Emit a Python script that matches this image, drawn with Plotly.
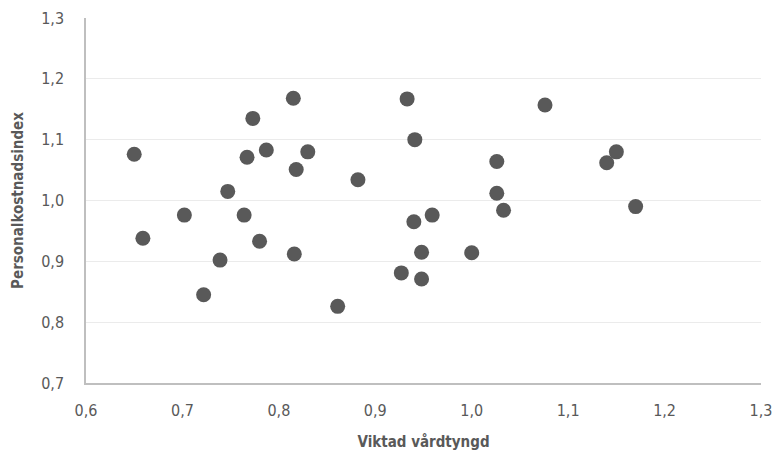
import plotly.graph_objects as go

viktad_vardtyngd = [0.650, 0.659, 0.702, 0.722, 0.739, 0.747, 0.764, 0.767, 0.773, 0.780,
                    0.787, 0.815, 0.816, 0.818, 0.830, 0.861, 0.882, 0.927, 0.933, 0.941,
                    0.940, 0.948, 0.948, 0.959, 1.000, 1.026, 1.026, 1.033, 1.076, 1.140,
                    1.150, 1.170]
personalkostnadsindex = [1.076, 0.938, 0.976, 0.845, 0.902, 1.015, 0.976, 1.071, 1.135, 0.933,
                         1.083, 1.168, 0.912, 1.051, 1.080, 0.826, 1.034, 0.881, 1.167, 1.100,
                         0.965, 0.915, 0.871, 0.976, 0.914, 1.064, 1.012, 0.984, 1.157, 1.062,
                         1.080, 0.990]

x_tick_vals = [0.6, 0.7, 0.8, 0.9, 1.0, 1.1, 1.2, 1.3]
x_tick_text = ["0,6", "0,7", "0,8", "0,9", "1,0", "1,1", "1,2", "1,3"]
y_tick_vals = [0.7, 0.8, 0.9, 1.0, 1.1, 1.2, 1.3]
y_tick_text = ["0,7", "0,8", "0,9", "1,0", "1,1", "1,2", "1,3"]

FONT = "DejaVu Sans Condensed, Liberation Sans Narrow, sans-serif"
GRAY = "#595959"

fig = go.Figure(go.Scatter(
    x=viktad_vardtyngd, y=personalkostnadsindex, mode="markers",
    marker=dict(size=15, color="#595959", line=dict(width=0)),
    hoverinfo="x+y",
))

fig.update_layout(
    width=775, height=454,
    margin=dict(l=86, r=14, t=18, b=71),
    paper_bgcolor="white", plot_bgcolor="white",
    showlegend=False,
    font=dict(family=FONT, size=16, color=GRAY),
)
fig.update_xaxes(
    range=[0.6, 1.3], tickvals=x_tick_vals, ticktext=x_tick_text,
    showgrid=False, zeroline=False, automargin=False,
    showline=True, linecolor="#bfbfbf", linewidth=1.5,
    ticks="", ticklen=0, ticklabelstandoff=12,
    tickfont=dict(family=FONT, size=16, color=GRAY),
    title=dict(text="<b>Viktad vårdtyngd</b>", font=dict(family=FONT, size=15, color=GRAY), standoff=18),
)
fig.update_yaxes(
    range=[0.7, 1.3], tickvals=y_tick_vals, ticktext=y_tick_text,
    showgrid=True, gridcolor="#ebebeb", gridwidth=1, zeroline=False, automargin=False,
    showline=True, linecolor="#bfbfbf", linewidth=1.5,
    ticks="", ticklen=0, ticklabelstandoff=17,
    tickfont=dict(family=FONT, size=16, color=GRAY),
    title=dict(text="<b>Personalkostnadsindex</b>", font=dict(family=FONT, size=15, color=GRAY), standoff=14),
)

fig.write_html(
    "out.html",
    config={"displayModeBar": False},
    post_script="document.body.style.margin='0';document.body.style.overflow='hidden';",
)
